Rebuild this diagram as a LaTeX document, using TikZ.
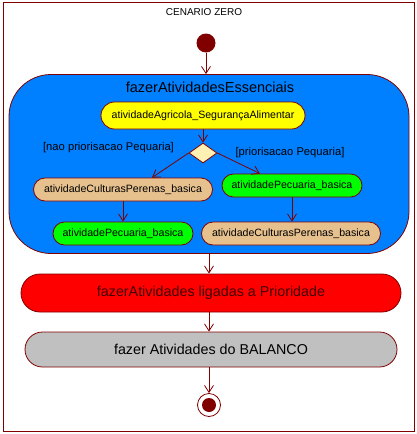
\documentclass[tikz,border=0pt]{standalone}
\usepackage{fontspec}
\setmainfont{Liberation Sans}
\usetikzlibrary{positioning, arrows.meta, shapes.geometric}
\definecolor{umlborder}{HTML}{800000}
\definecolor{essblue}{HTML}{0080FF}
\definecolor{agriyellow}{HTML}{FFFF00}
\definecolor{pertan}{HTML}{E6C18E}
\definecolor{pecgreen}{HTML}{00FF00}
\definecolor{priored}{HTML}{FF0000}
\definecolor{balgray}{HTML}{C0C0C0}
\definecolor{decfill}{HTML}{FFF0B4}
\definecolor{priotext}{HTML}{400000}

\begin{document}
\begin{tikzpicture}[x=1pt, y=-1pt,
    act/.style={draw=umlborder, line width=0.8pt, inner sep=0pt, align=center,
                font=\fontsize{10.6}{12}\selectfont},
    small/.style={act, minimum height=23pt, rounded corners=11.5pt},
    big/.style={act, font=\fontsize{14.3}{16}\selectfont},
    flow/.style={draw=umlborder, line width=0.8pt, -{Straight Barb[length=7pt, width=9pt]}},
    guard/.style={font=\fontsize{11.2}{13}\selectfont}]
  \useasboundingbox (0,0) rectangle (417,434);
  \draw[umlborder, line width=1pt] (3,2) rectangle (414,431);
  \node[font=\fontsize{10}{12}\selectfont] (cenario) at (204,12.5) {CENARIO ZERO};

  % inicio
  \node[circle, fill=umlborder, minimum size=19pt, inner sep=0pt] (ini) at (206,43) {};

  % atividades essenciais
  \node[act, fill=essblue, minimum width=400pt, minimum height=179pt, rounded corners=42pt] (ess) at (209,164) {};
  \node[font=\fontsize{14.5}{17}\selectfont] (esstitle) at (210,87.5) {fazerAtividadesEssenciais};
  \node[act, fill=agriyellow, minimum width=204pt, minimum height=27pt, rounded corners=13.5pt] (agri) at (203,115.5) {atividadeAgricola\_SegurançaAlimentar};
  \node[diamond, draw=umlborder, line width=0.8pt, fill=decfill, minimum width=28pt, minimum height=20pt, inner sep=0pt] (dec) at (203,153) {};
  \node[guard] (gnao) at (108.5,148) {[nao priorisacao Pequaria]};
  \node[guard] (gsim) at (290,153) {[priorisacao Pequaria]};
  \node[small, fill=pertan, minimum width=179pt] (pl1) at (123,189.5) {atividadeCulturasPerenas\_basica};
  \node[small, fill=pecgreen, minimum width=140pt] (pr1) at (292,185.5) {atividadePecuaria\_basica};
  \node[small, fill=pecgreen, minimum width=140pt] (pl2) at (123,233.5) {atividadePecuaria\_basica};
  \node[small, fill=pertan, minimum width=179pt] (pr2) at (291,233.5) {atividadeCulturasPerenas\_basica};

  % prioridade e balanco
  \node[big, fill=priored, text=priotext, minimum width=380pt, minimum height=38pt, rounded corners=19pt] (prio) at (211,293) {fazerAtividades ligadas a Prioridade};
  \node[big, fill=balgray, minimum width=372pt, minimum height=35pt, rounded corners=17.5pt] (bal) at (211,349.5) {fazer Atividades do BALANCO};

  % fim
  \node[circle, draw=umlborder, line width=0.8pt, fill=white, minimum size=23pt, inner sep=0pt] (fim) at (209,405) {};
  \fill[umlborder] (fim) circle (7pt);

  % transicoes
  \draw[flow] (ini) -- (ini |- ess.north);
  \draw[flow] (agri) -- (dec);
  \draw[flow] (dec.west) -- ([xshift=29pt]pl1.north);
  \draw[flow] (dec.east) -- ([xshift=-32pt]pr1.north);
  \draw[flow] (pl1) -- (pl2);
  \draw[flow] (pr1) -- (pr1 |- pr2.north);
  \draw[flow] (ess.south) -- (ess.south |- prio.north);
  \draw[flow] (prio.south -| ess.south) -- (bal.north -| ess.south);
  \draw[flow] (bal.south -| fim) -- (fim);
\end{tikzpicture}
\end{document}
